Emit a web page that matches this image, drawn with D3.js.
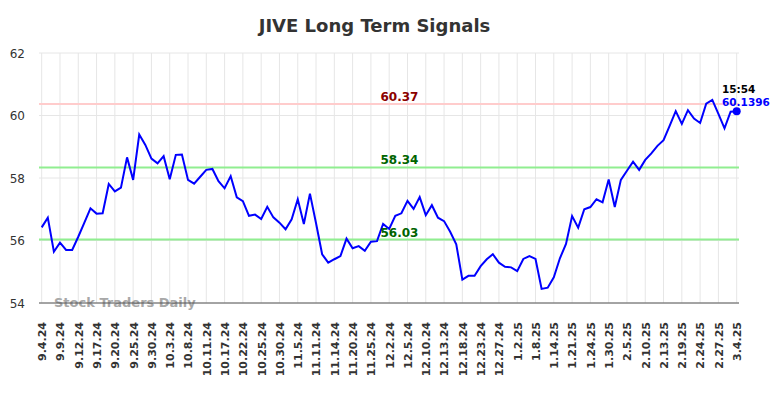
<!DOCTYPE html>
<html>
<head>
<meta charset="utf-8">
<script src="https://cdn.jsdelivr.net/npm/d3@7"></script>
<style>
  body { margin: 0; background: #fff; }
  svg { display: block; font-family: "DejaVu Sans", sans-serif; }
</style>
</head>
<body>
<div id="chart"></div>
<script>
// signal values, one per trading day (9.4.24 .. 3.4.25)
var values = [
  56.42, 56.73, 55.64, 55.93, 55.70, 55.70, 56.12, 56.57, 57.03, 56.86,
  56.87, 57.81, 57.57, 57.69, 58.66, 57.94, 59.39, 59.06, 58.62, 58.47,
  58.70, 57.96, 58.74, 58.75, 57.94, 57.82, 58.04, 58.26, 58.29, 57.90,
  57.67, 58.06, 57.38, 57.26, 56.79, 56.83, 56.69, 57.08, 56.74, 56.57,
  56.36, 56.68, 57.32, 56.53, 57.50, 56.55, 55.56, 55.29, 55.40, 55.50,
  56.06, 55.75, 55.82, 55.67, 55.96, 55.98, 56.53, 56.37, 56.79, 56.87,
  57.27, 57.01, 57.39, 56.81, 57.13, 56.73, 56.62, 56.28, 55.88, 54.75,
  54.87, 54.87, 55.18, 55.40, 55.56, 55.29, 55.16, 55.14, 55.02, 55.41,
  55.50, 55.41, 54.45, 54.49, 54.82, 55.43, 55.89, 56.78, 56.41, 57.00,
  57.07, 57.32, 57.22, 57.95, 57.07, 57.94, 58.23, 58.52, 58.26, 58.58,
  58.79, 59.03, 59.21, 59.67, 60.14, 59.73, 60.17, 59.90, 59.76, 60.38,
  60.50, 60.05, 59.59, 60.12, 60.1396
]

// one label every third trading day
var tickLabels = [
  "9.4.24", "9.9.24", "9.12.24", "9.17.24", "9.20.24", "9.25.24", "9.30.24",
  "10.3.24", "10.8.24", "10.11.24", "10.17.24", "10.22.24", "10.25.24", "10.30.24",
  "11.5.24", "11.11.24", "11.14.24", "11.20.24", "11.25.24", "12.2.24", "12.5.24",
  "12.10.24", "12.13.24", "12.18.24", "12.23.24", "12.27.24", "1.2.25", "1.8.25",
  "1.14.25", "1.21.25", "1.24.25", "1.30.25", "2.5.25", "2.10.25", "2.13.25",
  "2.19.25", "2.24.25", "2.27.25", "3.4.25"
]

var yTicks = [54, 56, 58, 60, 62]

var resistance = [60.37]
var supports = [58.34, 56.03]

var lastTime = "15:54"
var lastValue = "60.1396"

var width = 784
var height = 398
var plotLeft = 39
var plotRight = 739
var plotTop = 53
var plotBottom = 303

var svg = d3.select("#chart")
    .append("svg")
    .attr("width", width)
    .attr("height", height)

var x = d3.scaleLinear()
    .domain([0, values.length - 1])
    .range([41.7, 736.7])

var y = d3.scaleLinear()
    .domain([54, 62])
    .range([plotBottom, plotTop])

var tickIdx = tickLabels.map(function(d, i) { return i * 3 })

// title
svg.append("text")
    .attr("x", 374.5)
    .attr("y", 32)
    .attr("text-anchor", "middle")
    .style("font-size", "18px")
    .style("font-weight", "bold")
    .style("fill", "#333")
    .text("JIVE Long Term Signals")

// grid
svg.append("g")
    .selectAll("line")
    .data(tickIdx)
    .enter()
    .append("line")
    .attr("x1", function(d) { return x(d) })
    .attr("x2", function(d) { return x(d) })
    .attr("y1", plotTop)
    .attr("y2", plotBottom)
    .attr("stroke", "#e6e6e6")
    .attr("stroke-width", 1)

svg.append("g")
    .selectAll("line")
    .data(yTicks)
    .enter()
    .append("line")
    .attr("x1", plotLeft)
    .attr("x2", plotRight)
    .attr("y1", function(d) { return y(d) })
    .attr("y2", function(d) { return y(d) })
    .attr("stroke", "#e6e6e6")
    .attr("stroke-width", 1)

// y labels
svg.append("g")
    .selectAll("text")
    .data(yTicks)
    .enter()
    .append("text")
    .attr("x", 25)
    .attr("y", function(d) { return y(d) + 4.5 })
    .attr("text-anchor", "end")
    .style("font-size", "12px")
    .style("fill", "#333")
    .text(function(d) { return d })

// x axis
var xAxis = d3.axisBottom(x)
    .tickValues(tickIdx)
    .tickFormat(function(d, i) { return tickLabels[i] })
    .tickSize(0)

var gx = svg.append("g")
    .attr("transform", "translate(0," + plotBottom + ")")
    .call(xAxis)

gx.select(".domain").remove()
gx.selectAll("text")
    .attr("transform", "rotate(-90)")
    .attr("x", -19)
    .attr("y", 0)
    .attr("dy", "0.35em")
    .style("text-anchor", "end")
    .style("font-size", "11px")
    .style("font-weight", "bold")
    .style("font-family", "DejaVu Sans, sans-serif")
    .style("fill", "#333")

// signal levels
svg.append("g")
    .selectAll("line")
    .data(resistance)
    .enter()
    .append("line")
    .attr("x1", plotLeft)
    .attr("x2", plotRight)
    .attr("y1", function(d) { return y(d) })
    .attr("y2", function(d) { return y(d) })
    .attr("stroke", "#ffcccc")
    .attr("stroke-width", 2)

svg.append("g")
    .selectAll("line")
    .data(supports)
    .enter()
    .append("line")
    .attr("x1", plotLeft)
    .attr("x2", plotRight)
    .attr("y1", function(d) { return y(d) })
    .attr("y2", function(d) { return y(d) })
    .attr("stroke", "#90ee90")
    .attr("stroke-width", 2)

// watermark
svg.append("text")
    .attr("x", 54)
    .attr("y", 306.5)
    .style("font-size", "13px")
    .style("font-weight", "bold")
    .style("fill", "#999")
    .style("opacity", 0.85)
    .text("Stock Traders Daily")

// bottom axis line
svg.append("line")
    .attr("x1", plotLeft)
    .attr("x2", plotRight)
    .attr("y1", plotBottom)
    .attr("y2", plotBottom)
    .attr("stroke", "#555")
    .attr("stroke-width", 1)

// the signal line
var line = d3.line()
    .x(function(d, i) { return x(i) })
    .y(function(d) { return y(d) })

svg.append("path")
    .datum(values)
    .attr("d", line)
    .attr("fill", "none")
    .attr("stroke", "blue")
    .attr("stroke-width", 2)

// level labels
svg.append("g")
    .selectAll("text")
    .data(resistance)
    .enter()
    .append("text")
    .attr("x", 399.5)
    .attr("y", function(d) { return y(d) - 3 })
    .attr("text-anchor", "middle")
    .style("font-size", "12px")
    .style("font-weight", "bold")
    .style("fill", "#8b0000")
    .text(function(d) { return d.toFixed(2) })

svg.append("g")
    .selectAll("text")
    .data(supports)
    .enter()
    .append("text")
    .attr("x", 399.5)
    .attr("y", function(d) { return y(d) - 3 })
    .attr("text-anchor", "middle")
    .style("font-size", "12px")
    .style("font-weight", "bold")
    .style("fill", "#006400")
    .text(function(d) { return d.toFixed(2) })

// last point
var lastI = values.length - 1
svg.append("circle")
    .attr("cx", x(lastI))
    .attr("cy", y(values[lastI]))
    .attr("r", 4)
    .attr("fill", "blue")

svg.append("text")
    .attr("x", 722)
    .attr("y", 93)
    .style("font-size", "10.5px")
    .style("font-weight", "bold")
    .style("fill", "#000")
    .text(lastTime)

svg.append("text")
    .attr("x", 722)
    .attr("y", 106)
    .style("font-size", "10.5px")
    .style("font-weight", "bold")
    .style("fill", "blue")
    .text(lastValue)
</script>
</body>
</html>
